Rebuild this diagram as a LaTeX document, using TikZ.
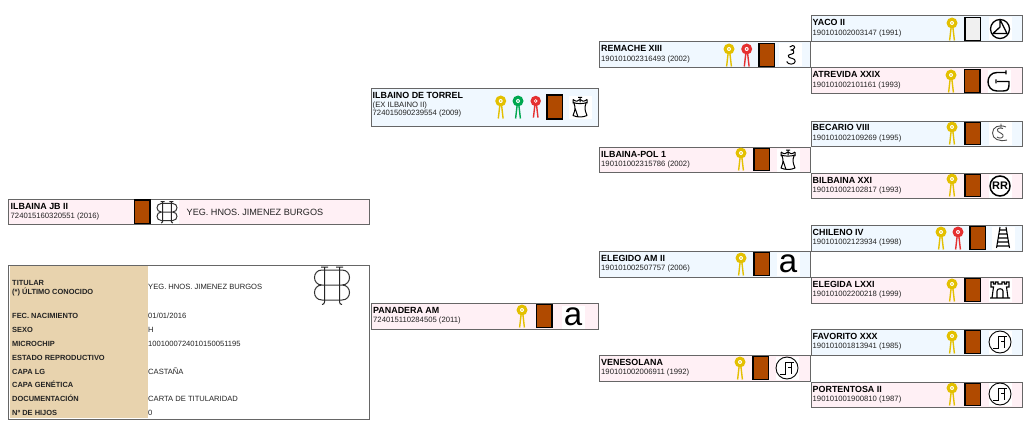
\documentclass[tikz,border=0pt]{standalone}
\usepackage{fontspec}
\setmainfont{Liberation Sans}
\definecolor{male}{HTML}{F0F8FF}
\definecolor{female}{HTML}{FFF0F5}
\definecolor{boxline}{HTML}{666666}
\definecolor{tan}{HTML}{E8D3AE}
\definecolor{coatbrown}{HTML}{B04A00}
\definecolor{coatgrey}{HTML}{F0F0F0}
\definecolor{rosyellow}{HTML}{E3C000}
\definecolor{rosgreen}{HTML}{00A850}
\definecolor{rosred}{HTML}{E53030}
\definecolor{ink}{HTML}{222222}
\tikzset{
  x=1pt,y=-1pt,
  hbox/.style={draw=boxline,line width=1pt},
  hname/.style={anchor=base west,inner sep=0pt,font=\fontsize{8.9}{9}\selectfont\bfseries,text=black},
  hsub/.style={anchor=base west,inner sep=0pt,font=\fontsize{7.7}{8}\selectfont,text=ink},
  tlabel/.style={anchor=base west,inner sep=0pt,font=\fontsize{7.45}{8}\selectfont\bfseries,text=ink},
  tvalue/.style={anchor=base west,inner sep=0pt,font=\fontsize{7.6}{8}\selectfont,text=ink},
  coatbox/.style={draw=black,line width=1.1pt},
  brandline/.style={draw=black,line width=1pt,line join=round},
  rosette/.pic={
    \draw[#1,line width=1.4pt] (-0.4,0) -- (-2.4,17.5) (0.4,0) -- (2.4,17.5);
    \fill[#1] (0,0) circle[radius=5.5];
    \fill[white] (0,0) circle[radius=2];
    \fill[#1] (0,0) circle[radius=.8];
  },
  brandHB/.pic={
    \draw[black!80,line width=1pt]
      (-10,-15) -- (10,-15) .. controls (20,-15) and (20,0) .. (10,0) .. controls (20,0) and (20,15) .. (10,15) -- (-10,15)
      .. controls (-20,15) and (-20,0) .. (-10,0) .. controls (-20,0) and (-20,-15) .. (-10,-15)
      (-10,0) -- (10,0);
    \draw[black!85,line width=1pt]
      (-7.5,-18) -- (-7.5,17) .. controls (-7.5,19) and (-8.5,19) .. (-10,19.5)
      (7.5,-18) -- (7.5,17) .. controls (7.5,19) and (8.5,19) .. (10,19.5)
      (-11,-18) -- (-4,-18) (4,-18) -- (11,-18);
  },
  brandS/.pic={
    \draw[brandline]
      (-1,-8) .. controls (0,-10) and (4,-10) .. (4,-7.5) .. controls (4,-5.5) and (1,-5) .. (0,-5)
      (0,-5) .. controls (3,-5) and (4,-3.5) .. (3,-2) .. controls (1,0) and (-4,-1) .. (-2,2)
      .. controls (-1,3.5) and (5,3) .. (4.5,6.5) .. controls (4,10) and (-3,10) .. (-4,6.5);
  },
  brandY/.pic={
    \draw[black,line width=1.3pt] (0,0) circle[radius=9.5];
    \draw[black,line width=1.3pt,line join=round]
      (0,-9.5) -- (0,-2) -- (-7,4.5) -- (7,4.5) -- cycle;
  },
  brandG/.pic={
    \draw[black,line width=1.4pt,line join=round]
      (6,-9) -- (-2,-9) .. controls (-14,-9) and (-14,9.5) .. (-2,9.5) -- (4,9.5)
      .. controls (10,9.5) and (10,7) .. (10,0) -- (-2,0)
      (7,-11) -- (7,-7) (-3,-2) -- (-3,2);
  },
  brandCS/.pic={
    \draw[black!70,line width=.9pt]
      (6,-6) .. controls (-1,-9) and (-7.5,-6) .. (-7.5,0) .. controls (-7.5,6) and (-1,9) .. (7,7)
      (3,-4.5) .. controls (-1,-6) and (-4,-4) .. (-2,-1.5) .. controls (0,0) and (4,1) .. (3,3.5) .. controls (2,6) and (-2,5) .. (-3,4)
      (1,-9.5) -- (1,-5);
  },
  brandRR/.pic={
    \draw[black,line width=1.5pt] (0,0) circle[radius=10];
    \node[inner sep=0pt,font=\fontsize{11}{11}\selectfont\bfseries] (#1) at (0,0) {RR};
  },
  brandCup/.pic={
    \draw[brandline]
      (-7,-5) .. controls (-3,-3.5) and (3,-3.5) .. (7,-5)
      (-7,-8) -- (-7,-4) (7,-8) -- (7,-4) (0,-10.5) -- (0,-5)
      (-7,-8) .. controls (-4,-5.5) and (-2,-6) .. (0,-8) .. controls (2,-6) and (4,-5.5) .. (7,-8)
      (-2,-10) -- (2,-10)
      (-6,-4) .. controls (-4.5,0) and (-4.5,2) .. (-7,8) .. controls (-3,10) and (3,10) .. (7,8)
      .. controls (4.5,2) and (4.5,0) .. (6,-4)
      (-4.8,1) -- (-2,9.5);
  },
  brandLadder/.pic={
    \draw[black,line width=1.1pt]
      (-3,-11) -- (-6.5,10) (3,-11) -- (6.5,10)
      (-3.4,-8) -- (3.4,-8) (-4,-4) -- (4,-4) (-4.6,0) -- (4.6,0) (-5.2,4) -- (5.2,4) (-5.8,8) -- (5.8,8);
  },
  brandCastle/.pic={
    \draw[black,line width=1.1pt,line join=miter]
      (-10,8) -- (10,8)
      (-8,8) -- (-6.5,-3) -- (-9,-3) -- (-9,-8) -- (-6.5,-8) -- (-6.5,-6) -- (-4.5,-6) -- (-4.5,-8) -- (-2,-8) -- (-2,-6) -- (2,-6) -- (2,-8) -- (4.5,-8) -- (4.5,-6) -- (6.5,-6) -- (6.5,-8) -- (9,-8) -- (9,-3) -- (6.5,-3) -- (8,8)
      (-3,8) -- (-3,1) .. controls (-3,-2) and (3,-2) .. (3,1) -- (3,8);
  },
  brandJF/.pic={
    \draw[black,line width=.9pt] (0,0) circle[radius=11];
    \draw[black,line width=.9pt,line join=miter]
      (-7,6) -- (-1.5,6) -- (-1.5,-5.5) -- (7,-5.5)
      (4,-5.5) -- (4,6) (1,-1) -- (4,-1);
  },
  brandA/.pic={
    \node[inner sep=0pt,font=\fontsize{33}{33}\selectfont,text=black] (#1) at (0,0) {a};
  },
}
% id, x0, y0, x1, y1, fill, name, sub line(s), coat x
\newcommand{\horse}[9]{%
  \path[hbox,fill=#6] (#2,#3) rectangle (#4,#5);
  \node[hname] (#1name) at (#2+1.5,#3+10) {#7};
  \node[hsub] (#1id) at (#2+1.5,#3+19.5) {#8};
  \coat{#9}{#3+1.5}{#5-1.5}{coatbrown}
}
\newcommand{\coat}[4]{\path[coatbox,fill=#4] (#1,#2) rectangle (#1+15.5,#3);}
\newcommand{\brand}[3]{%
  \fill[white] (#2-11.5,#3-11.5) rectangle (#2+11.5,#3+11.5);
  \pic at (#2,#3) {#1};
}
\begin{document}
\begin{tikzpicture}
\useasboundingbox (0,0) rectangle (1024,441);
\fill[white] (0,0) rectangle (1024,441);

% subject
\path[hbox,fill=female] (8.5,199) rectangle (369.5,224);
\node[hname] (subjname) at (10.5,209) {ILBAINA JB II};
\node[hsub] (subjid) at (10.5,218.5) {724015160320551 (2016)};
\coat{134.5}{200}{223.5}{coatbrown}
\fill[white] (150.5,200) rectangle (179,223.5);
\pic[scale=.57] at (167,212) {brandHB};
\node[anchor=base west,inner sep=0pt,font=\fontsize{9.1}{10}\selectfont,text=ink] (subjowner) at (186.5,215.5) {YEG. HNOS. JIMENEZ BURGOS};

% table
\path[hbox,fill=white] (8.5,265) rectangle (369.5,419);
\fill[tan] (10,266) rectangle (147.5,418);
\pic at (332,285) {brandHB};
\node[tlabel] (l1) at (12,285) {TITULAR};
\node[tlabel] (l1b) at (12,294) {(*) ÚLTIMO CONOCIDO};
\node[tlabel] (l2) at (12,318) {FEC. NACIMIENTO};
\node[tlabel] (l3) at (12,332) {SEXO};
\node[tlabel] (l4) at (12,346) {MICROCHIP};
\node[tlabel] (l5) at (12,360) {ESTADO REPRODUCTIVO};
\node[tlabel] (l6) at (12,374) {CAPA LG};
\node[tlabel] (l7) at (12,387.5) {CAPA GENÉTICA};
\node[tlabel] (l8) at (12,401.5) {DOCUMENTACIÓN};
\node[tlabel] (l9) at (12,415) {Nº DE HIJOS};
\node[tvalue] (v1) at (148,289.5) {YEG. HNOS. JIMENEZ BURGOS};
\node[tvalue] (v2) at (148,318) {01/01/2016};
\node[tvalue] (v3) at (148,332) {H};
\node[tvalue] (v4) at (148,346) {1001000724010150051195};
\node[tvalue] (v6) at (148,374) {CASTAÑA};
\node[tvalue] (v8) at (148,401.5) {CARTA DE TITULARIDAD};
\node[tvalue] (v9) at (148,415) {0};

% parents
\path[hbox,fill=male] (371.5,89) rectangle (598,126);
\node[hname] (ilbainoname) at (372.5,98.5) {ILBAINO DE TORREL};
\node[hsub] (ilbainoex) at (372.5,107) {(EX ILBAINO II)};
\node[hsub] (ilbainoid) at (372.5,116) {724015090239554 (2009)};
\pic at (500.7,101) {rosette=rosyellow};
\pic at (518,101) {rosette=rosgreen};
\pic[scale=.95] at (535.7,101) {rosette=rosred};
\coat{547}{95}{119}{coatbrown}
\brand{brandCup}{580}{107.5}

\horse{panadera}{371.5}{303}{598}{329}{female}{PANADERA AM}{724015110284505 (2011)}{536.5}
\pic at (522,310) {rosette=rosyellow};
\brand{brandA}{573}{317}

% grandparents
\horse{remache}{599.5}{42}{810}{68}{male}{REMACHE XIII}{190101002316493 (2002)}{759}
\pic at (729,49) {rosette=rosyellow};
\pic at (746.7,49) {rosette=rosred};
\brand{brandS}{790.7}{55}

\horse{ilbainapol}{599.5}{147}{810}{172}{female}{ILBAINA-POL 1}{190101002315786 (2002)}{754}
\pic at (741,153) {rosette=rosyellow};
\brand{brandCup}{788}{160}

\horse{elegido}{599.5}{251}{810}{277}{male}{ELEGIDO AM II}{190101002507757 (2006)}{754}
\pic at (741,258) {rosette=rosyellow};
\brand{brandA}{788}{264}

\horse{venesolana}{599.5}{355}{810}{381}{female}{VENESOLANA}{190101002006911 (1992)}{753}
\pic at (740,362) {rosette=rosyellow};
\brand{brandJF}{787}{368}

% great-grandparents
\horse{yaco}{811}{16}{1022}{42}{male}{YACO II}{190101002003147 (1991)}{965}
\coat{965}{17.5}{40.5}{coatgrey}
\pic at (952,23) {rosette=rosyellow};
\brand{brandY}{1000}{29}

\horse{atrevida}{811}{68}{1022}{94}{female}{ATREVIDA XXIX}{190101002101161 (1993)}{964.5}
\pic at (951,75) {rosette=rosyellow};
\brand{brandG}{999}{81.5}

\horse{becario}{811}{121}{1022}{146}{male}{BECARIO VIII}{190101002109269 (1995)}{965}
\pic at (952,127) {rosette=rosyellow};
\brand{brandCS}{1000}{133}

\horse{bilbaina}{811}{173}{1022}{198}{female}{BILBAINA XXI}{190101002102817 (1993)}{965}
\pic at (952,179) {rosette=rosyellow};
\brand{brandRR=rrmark}{1000}{186}

\horse{chileno}{811}{225}{1022}{251}{male}{CHILENO IV}{190101002123934 (1998)}{970}
\pic at (941,232) {rosette=rosyellow};
\pic at (958,232) {rosette=rosred};
\brand{brandLadder}{1003}{238}

\horse{elegida}{811}{277}{1022}{303}{female}{ELEGIDA LXXI}{190101002200218 (1999)}{965}
\pic at (952,284) {rosette=rosyellow};
\brand{brandCastle}{1000}{290}

\horse{favorito}{811}{329}{1022}{355}{male}{FAVORITO XXX}{190101001813941 (1985)}{965}
\pic at (952,336) {rosette=rosyellow};
\brand{brandJF}{1000}{342}

\horse{portentosa}{811}{382}{1022}{407}{female}{PORTENTOSA II}{190101001900810 (1987)}{965}
\pic at (952,388) {rosette=rosyellow};
\brand{brandJF}{1000}{394}
\end{tikzpicture}
\end{document}
